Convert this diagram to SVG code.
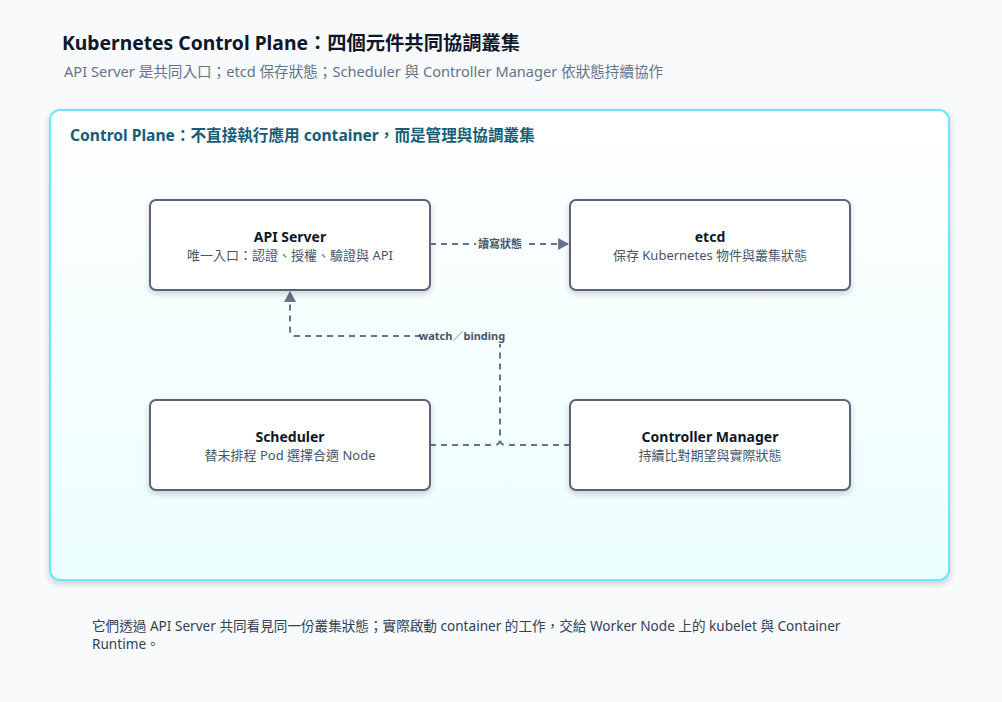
<svg xmlns="http://www.w3.org/2000/svg" width="1002" height="702" viewBox="0 0 1002 702">
<defs>
<linearGradient id="cp" x1="0" y1="0" x2="0" y2="1">
<stop offset="0" stop-color="#ffffff"/>
<stop offset="1" stop-color="#ecfeff"/>
</linearGradient>
<filter id="sh" x="-10%" y="-10%" width="120%" height="130%">
<feDropShadow dx="0" dy="3" stdDeviation="3" flood-color="#0f172a" flood-opacity="0.18"/>
</filter>
<marker id="arr" viewBox="0 0 10 10" refX="9" refY="5" markerWidth="11" markerHeight="12" markerUnits="userSpaceOnUse" orient="auto" preserveAspectRatio="none">
<path d="M0,0 L10,5 L0,10 Z" fill="#64748b"/>
</marker>
<style>
text{font-family:"Noto Sans","Noto Sans CJK TC",sans-serif;}
.node rect{fill:#ffffff;stroke:#5b6478;stroke-width:2;}
.t{font-size:14px;font-weight:bold;fill:#0f172a;text-anchor:middle;}
.s{font-size:13px;fill:#475569;text-anchor:middle;}
.e{fill:none;stroke:#64748b;stroke-width:2;stroke-dasharray:6 5;}
.lb{font-size:11px;font-weight:bold;fill:#475569;text-anchor:middle;}
</style>
</defs>
<rect width="1002" height="702" fill="#f8fafc"/>
<text x="62" y="50" font-size="19.3" font-weight="bold" fill="#0f172a">Kubernetes Control Plane：四個元件共同協調叢集</text>
<text x="64" y="77" font-size="14.6" fill="#64748b">API Server 是共同入口；etcd 保存狀態；Scheduler 與 Controller Manager 依狀態持續協作</text>
<g id="control-plane">
<rect x="50" y="110" width="899" height="470" rx="10" fill="url(#cp)" stroke="#67e8f9" stroke-width="2" filter="url(#sh)"/>
<text x="70" y="141" font-size="15.6" font-weight="bold" fill="#155e75">Control Plane：不直接執行應用 container，而是管理與協調叢集</text>
</g>
<g id="connectors">
<path class="e" d="M430,244 L568,244" marker-end="url(#arr)"/>
<rect x="476" y="237" width="48" height="15" fill="#f8fdff"/>
<text class="lb" x="500" y="248">讀寫狀態</text>
<path class="e" d="M430,445 L494,445 Q500,445 500,439 L500,342 Q500,336 494,336 L296,336 Q290,336 290,330 L290,292" marker-end="url(#arr)"/>
<path class="e" d="M570,445 L506,445 Q500,445 500,439"/>
<rect x="421" y="329" width="82" height="15" fill="#f4fdff"/>
<text class="lb" x="462" y="340">watch／binding</text>
</g>
<g id="api-server" class="node">
<rect x="150" y="200" width="280" height="90" rx="6" filter="url(#sh)"/>
<text class="t" x="290" y="242">API Server</text>
<text class="s" x="290" y="260">唯一入口：認證、授權、驗證與 API</text>
</g>
<g id="etcd" class="node">
<rect x="570" y="200" width="280" height="90" rx="6" filter="url(#sh)"/>
<text class="t" x="710" y="242">etcd</text>
<text class="s" x="710" y="260">保存 Kubernetes 物件與叢集狀態</text>
</g>
<g id="scheduler" class="node">
<rect x="150" y="400" width="280" height="90" rx="6" filter="url(#sh)"/>
<text class="t" x="290" y="442">Scheduler</text>
<text class="s" x="290" y="460">替未排程 Pod 選擇合適 Node</text>
</g>
<g id="controller-manager" class="node">
<rect x="570" y="400" width="280" height="90" rx="6" filter="url(#sh)"/>
<text class="t" x="710" y="442">Controller Manager</text>
<text class="s" x="710" y="460">持續比對期望與實際狀態</text>
</g>
<g id="footer">
<text x="92" y="631" font-size="13.6" fill="#334155">它們透過 API Server 共同看見同一份叢集狀態；實際啟動 container 的工作，交給 Worker Node 上的 kubelet 與 Container</text>
<text x="92" y="649" font-size="13.6" fill="#334155">Runtime。</text>
</g>
</svg>
